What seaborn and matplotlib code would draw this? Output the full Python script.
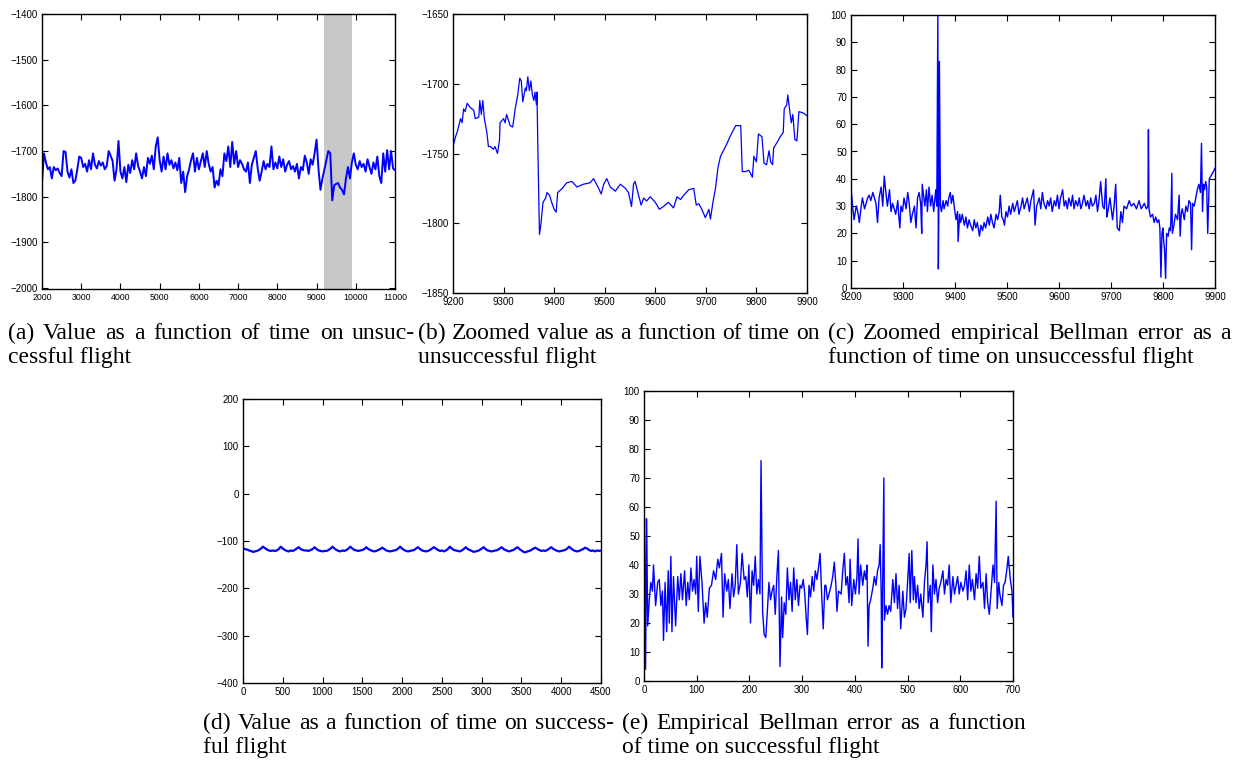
import numpy as np
import matplotlib
matplotlib.use('Agg')
import matplotlib.pyplot as plt
import seaborn as sns

# (a) value on unsuccessful flight, sampled every 50 steps from 2000 to 11000
a_values = [
    -1770, -1705, -1725, -1740, -1735, -1760, -1735, -1742, -1738, -1748,
    -1755, -1700, -1702, -1745, -1758, -1740, -1770, -1765, -1740, -1712,
    -1715, -1735, -1728, -1745, -1720, -1740, -1705, -1730, -1738, -1722,
    -1732, -1725, -1740, -1733, -1700, -1710, -1722, -1765, -1740, -1678,
    -1745, -1760, -1735, -1768, -1730, -1748, -1720, -1740, -1705, -1732,
    -1745, -1760, -1735, -1755, -1715, -1728, -1710, -1740, -1690, -1670,
    -1720, -1745, -1712, -1740, -1705, -1730, -1720, -1738, -1725, -1742,
    -1715, -1770, -1745, -1790, -1755, -1740, -1720, -1705, -1745, -1715,
    -1740, -1722, -1705, -1735, -1700, -1728, -1745, -1735, -1780, -1765,
    -1775, -1740, -1755, -1705, -1722, -1690, -1735, -1680, -1728, -1700,
    -1735, -1720, -1728, -1740, -1745, -1725, -1770, -1730, -1715, -1700,
    -1738, -1765, -1745, -1722, -1740, -1728, -1735, -1690, -1740, -1725,
    -1738, -1712, -1735, -1718, -1745, -1730, -1722, -1740, -1733, -1745,
    -1728, -1760, -1735, -1742, -1710, -1725, -1750, -1718, -1730, -1705,
    -1675, -1740, -1785, -1760, -1740, -1720, -1700, -1705, -1808, -1775,
    -1772, -1770, -1780, -1785, -1795, -1760, -1735, -1760, -1725, -1705,
    -1730, -1740, -1722, -1735, -1728, -1745, -1718, -1735, -1750, -1725,
    -1740, -1712, -1755, -1770, -1705, -1745, -1698, -1740, -1700, -1738,
    -1742,
]

# (b) zoomed value, 9200 to 9900
b_times = [
    9200, 9205, 9208, 9215, 9218, 9221, 9224, 9228, 9234, 9241,
    9244, 9251, 9253, 9256, 9259, 9262, 9267, 9270, 9274, 9280,
    9283, 9288, 9292, 9293, 9300, 9303, 9306, 9313, 9318, 9323,
    9328, 9332, 9335, 9338, 9343, 9345, 9348, 9351, 9354, 9357,
    9360, 9362, 9365, 9366, 9368, 9371, 9374, 9378, 9383, 9386,
    9391, 9396, 9400, 9404, 9407, 9416, 9425, 9435, 9445, 9458,
    9471, 9478, 9488, 9493, 9498, 9504, 9511, 9521, 9531, 9541,
    9547, 9553, 9557, 9560, 9567, 9572, 9577, 9583, 9590, 9600,
    9608, 9616, 9626, 9636, 9643, 9650, 9656, 9666, 9676, 9681,
    9686, 9692, 9699, 9706, 9709, 9714, 9719, 9724, 9729, 9739,
    9749, 9759, 9769, 9772, 9778, 9785, 9792, 9795, 9800, 9804,
    9811, 9815, 9820, 9825, 9828, 9832, 9834, 9841, 9847, 9853,
    9855, 9860, 9862, 9866, 9869, 9872, 9876, 9880, 9884, 9893,
    9900,
]
b_values = [
    -1745, -1738, -1735, -1725, -1728, -1718, -1720, -1714, -1717, -1719,
    -1725, -1724, -1712, -1722, -1712, -1725, -1735, -1745, -1745, -1747,
    -1745, -1750, -1740, -1728, -1725, -1728, -1722, -1730, -1731, -1718,
    -1708, -1696, -1698, -1713, -1703, -1705, -1695, -1705, -1698, -1708,
    -1712, -1706, -1715, -1706, -1750, -1808, -1800, -1785, -1782, -1778,
    -1780, -1786, -1790, -1792, -1778, -1775, -1771, -1770, -1774, -1772,
    -1771, -1768, -1775, -1779, -1772, -1768, -1774, -1777, -1772, -1775,
    -1778, -1788, -1772, -1770, -1780, -1787, -1782, -1784, -1781, -1785,
    -1790, -1788, -1785, -1789, -1781, -1783, -1780, -1776, -1775, -1787,
    -1786, -1790, -1796, -1790, -1797, -1785, -1775, -1760, -1752, -1745,
    -1737, -1730, -1730, -1763, -1763, -1762, -1767, -1752, -1756, -1736,
    -1738, -1757, -1758, -1748, -1756, -1758, -1746, -1742, -1738, -1735,
    -1718, -1715, -1708, -1720, -1728, -1722, -1740, -1741, -1720, -1721,
    -1723,
]

# (c) zoomed empirical Bellman error, 9200 to 9900
c_times = [
    9200, 9203, 9206, 9210, 9213, 9216, 9219, 9222, 9226, 9229,
    9232, 9235, 9238, 9242, 9245, 9248, 9251, 9254, 9258, 9261,
    9264, 9267, 9270, 9274, 9277, 9280, 9283, 9286, 9290, 9292,
    9294, 9296, 9299, 9302, 9306, 9309, 9312, 9315, 9318, 9322,
    9325, 9328, 9331, 9334, 9336, 9337, 9340, 9342, 9345, 9347,
    9350, 9353, 9356, 9359, 9363, 9365, 9367, 9368, 9369, 9370,
    9372, 9374, 9377, 9379, 9383, 9386, 9388, 9391, 9393, 9396,
    9399, 9402, 9405, 9406, 9409, 9411, 9414, 9418, 9421, 9424,
    9427, 9430, 9434, 9437, 9440, 9443, 9447, 9450, 9453, 9456,
    9459, 9463, 9466, 9469, 9472, 9475, 9479, 9482, 9485, 9487,
    9490, 9493, 9495, 9498, 9501, 9504, 9507, 9511, 9514, 9517,
    9520, 9523, 9527, 9530, 9533, 9536, 9539, 9543, 9546, 9551,
    9554, 9557, 9562, 9565, 9568, 9571, 9575, 9578, 9581, 9584,
    9587, 9591, 9594, 9597, 9600, 9603, 9607, 9610, 9613, 9616,
    9619, 9623, 9626, 9629, 9632, 9636, 9639, 9642, 9645, 9648,
    9652, 9655, 9658, 9661, 9664, 9668, 9671, 9674, 9677, 9680,
    9684, 9687, 9690, 9692, 9694, 9698, 9703, 9706, 9709, 9712,
    9716, 9719, 9722, 9725, 9730, 9735, 9739, 9744, 9749, 9754,
    9758, 9764, 9768, 9771, 9772, 9773, 9776, 9780, 9783, 9786,
    9789, 9792, 9794, 9796, 9798, 9800, 9801, 9803, 9805, 9807,
    9810, 9812, 9814, 9815, 9817, 9818, 9821, 9824, 9828, 9831,
    9833, 9835, 9837, 9841, 9844, 9847, 9850, 9853, 9855, 9857,
    9860, 9863, 9866, 9869, 9872, 9874, 9876, 9878, 9880, 9882,
    9884, 9886, 9889, 9892, 9895, 9898, 9900,
]
c_values = [
    37, 30, 25, 30, 28, 24, 29, 33, 29, 31,
    33, 34, 32, 35, 33, 31, 24, 33, 37, 30,
    41, 35, 30, 36, 28, 31, 29, 27, 32, 26,
    22, 30, 28, 33, 29, 35, 31, 24, 27, 30,
    22, 33, 35, 31, 20, 38, 33, 30, 36, 28,
    37, 30, 34, 28, 36, 30, 100, 7, 30, 83,
    30, 28, 32, 29, 32, 30, 33, 35, 31, 34,
    29, 25, 28, 17, 27, 24, 27, 23, 26, 22,
    25, 23, 21, 25, 22, 24, 19, 23, 21, 24,
    22, 26, 23, 27, 24, 22, 27, 25, 28, 34,
    26, 25, 23, 28, 26, 30, 27, 31, 28, 30,
    32, 27, 30, 33, 29, 31, 33, 28, 32, 36,
    23, 30, 33, 29, 35, 31, 29, 32, 30, 33,
    28, 32, 30, 34, 29, 33, 36, 30, 32, 29,
    33, 30, 34, 29, 32, 30, 33, 29, 31, 34,
    30, 32, 29, 33, 30, 31, 34, 28, 32, 39,
    30, 29, 40, 26, 28, 33, 25, 30, 38, 22,
    21, 28, 24, 30, 29, 32, 30, 31, 29, 32,
    29, 31, 29, 30, 58, 29, 26, 27, 24, 26,
    24, 25, 22, 4, 20, 22, 18, 14, 3.5, 20,
    19, 22, 21, 24, 42, 20, 23, 27, 25, 34,
    19, 27, 29, 25, 30, 28, 32, 31, 14, 31,
    30, 33, 36, 38, 35, 53, 28, 38, 36, 39,
    37, 20, 40, 41, 42, 43, 44,
]

# (d) value on successful flight, sampled every 25 steps from 0 to 4500
d_values = [
    -116, -117, -118, -120, -121, -123, -122, -121, -119, -116,
    -112, -115, -118, -120, -121, -120, -121, -120, -117, -112,
    -116, -119, -121, -122, -120, -121, -119, -116, -113, -117,
    -119, -120, -120, -121, -119, -117, -113, -117, -120, -121,
    -122, -121, -121, -119, -116, -112, -116, -119, -121, -122,
    -120, -121, -119, -116, -112, -116, -119, -120, -121, -120,
    -119, -117, -113, -117, -119, -121, -122, -121, -119, -117,
    -114, -117, -120, -121, -122, -121, -120, -119, -116, -112,
    -116, -119, -121, -122, -121, -120, -119, -116, -113, -117,
    -120, -121, -122, -121, -119, -116, -113, -116, -119, -121,
    -120, -122, -120, -117, -112, -116, -119, -120, -121, -122,
    -120, -117, -113, -117, -119, -121, -123, -122, -121, -119,
    -116, -113, -117, -120, -121, -122, -121, -120, -119, -116,
    -113, -117, -119, -121, -122, -120, -119, -116, -113, -117,
    -120, -123, -124, -122, -121, -119, -116, -114, -117, -119,
    -121, -120, -121, -119, -116, -113, -117, -119, -121, -122,
    -121, -120, -119, -116, -112, -116, -119, -121, -122, -121,
    -119, -117, -114, -116, -119, -121, -120, -122, -120, -121,
    -120,
]

# (e) empirical Bellman error on successful flight, 0 to 700
e_times = [
    0, 1, 3, 5, 7, 10, 13, 16, 18, 22, 26, 29, 32, 35, 37, 40, 43, 46, 48, 51,
    53, 56, 60, 64, 67, 70, 73, 77, 80, 83, 86, 89, 92, 95, 98, 100, 103, 106, 110, 114,
    117, 120, 124, 128, 132, 136, 140, 143, 147, 150, 153, 157, 160, 163, 167, 170, 173, 176, 179, 183,
    186, 190, 193, 196, 199, 202, 205, 208, 211, 214, 217, 220, 222, 225, 228, 231, 234, 237, 240, 243,
    246, 249, 252, 255, 257, 258, 261, 263, 266, 269, 272, 275, 278, 281, 284, 287, 290, 293, 296, 299,
    302, 305, 308, 310, 313, 316, 319, 322, 325, 328, 331, 334, 337, 340, 343,
    345, 348, 351, 355, 358, 361, 364, 366, 369, 374, 377, 380, 383, 386, 389, 391, 394, 398, 401, 404,
    406, 408, 411, 415, 418, 421, 423, 425, 427, 430, 434, 437, 440, 443, 446, 448, 450, 451, 455, 456,
    459, 462, 465, 468, 472, 475, 478, 481, 484, 487, 491, 494, 497, 500, 503, 505, 508, 511, 513, 516,
    519, 522, 525, 529, 532, 535, 537, 539, 543, 545, 548, 551, 554, 557, 560, 563, 567, 570, 573, 576,
    579, 582, 586, 589, 592, 595, 598, 601, 605, 608, 611, 614, 617, 620, 623, 627, 630, 633, 636, 639,
    643, 646, 649, 652, 655, 658, 662, 665, 668, 670, 673, 675, 679, 682, 685, 688, 691, 695, 698, 700,
]
e_values = [
    45, 56, 4, 56, 19, 28, 34, 31, 40, 26, 34, 35, 26, 31, 14, 34, 17, 38, 20, 43,
    17, 36, 19, 36, 28, 37, 28, 38, 26, 34, 28, 39, 31, 35, 30, 43, 24, 43, 34, 20,
    27, 22, 32, 33, 38, 35, 42, 39, 44, 22, 37, 31, 35, 25, 37, 29, 33, 47, 30, 34,
    44, 35, 36, 29, 40, 20, 38, 33, 43, 30, 35, 30, 76, 24, 16, 15, 24, 34, 28, 31,
    33, 23, 36, 45, 17, 5, 29, 15, 27, 23, 39, 28, 34, 24, 39, 28, 35, 26, 33, 32,
    35, 30, 21, 16, 33, 29, 36, 31, 38, 35, 39, 44, 30, 18, 33,
    33, 28, 30, 33, 36, 41, 33, 24, 31, 30, 38, 44, 33, 36, 27, 42, 26, 35, 30, 36,
    49, 30, 40, 33, 38, 35, 40, 12, 26, 28, 32, 36, 33, 38, 40, 47, 30, 4.5, 70, 21,
    26, 23, 26, 24, 35, 27, 37, 25, 33, 18, 31, 22, 25, 34, 44, 27, 45, 28, 36, 27,
    33, 25, 30, 22, 34, 40, 48, 27, 33, 17, 40, 30, 35, 27, 32, 34, 38, 30, 35, 33,
    40, 27, 36, 30, 33, 36, 30, 34, 31, 33, 38, 28, 40, 31, 35, 28, 37, 32, 43, 32,
    34, 25, 37, 27, 23, 30, 40, 34, 62, 25, 34, 30, 26, 33, 34, 38, 43, 35, 31, 22,
]

captions = {
    'a': ('(a) Value as a function of time on unsuc-', 'cessful flight'),
    'b': ('(b) Zoomed value as a function of time on', 'unsuccessful flight'),
    'c': ('(c) Zoomed empirical Bellman error as a', 'function of time on unsuccessful flight'),
    'd': ('(d) Value as a function of time on success-', 'ful flight'),
    'e': ('(e) Empirical Bellman error as a function', 'of time on successful flight'),
}

sns.set_style('ticks')
plt.rcParams['font.family'] = ['Liberation Sans', 'DejaVu Sans']
plt.rcParams['xtick.direction'] = 'in'
plt.rcParams['ytick.direction'] = 'in'
plt.rcParams['xtick.top'] = True
plt.rcParams['ytick.right'] = True
plt.rcParams['xtick.major.size'] = 4
plt.rcParams['ytick.major.size'] = 4
plt.rcParams['xtick.major.width'] = 0.8
plt.rcParams['ytick.major.width'] = 0.8
plt.rcParams['axes.linewidth'] = 1.0
plt.rcParams['axes.edgecolor'] = 'black'

W, H = 1239, 764
fig = plt.figure(figsize=(W / 100, H / 100), dpi=100)


def add_axes(left, top, right, bottom):
    return fig.add_axes([left / W, 1 - bottom / H, (right - left) / W, (bottom - top) / H])


ax_a = add_axes(42, 14, 395, 289)
ax_b = add_axes(453, 14, 807, 293)
ax_c = add_axes(851, 15, 1215, 288)
ax_d = add_axes(243, 399, 601, 683)
ax_e = add_axes(644, 391, 1013, 681)

blue = (0, 0, 1)

ax_a.axvspan(9200, 9900, color='#c8c8c8', lw=0)
sns.lineplot(x=np.linspace(2000, 11000, len(a_values)), y=a_values, ax=ax_a,
             color=blue, lw=1.4, estimator=None, sort=False)
ax_a.set_xlim(2000, 11000)
ax_a.set_ylim(-2002, -1400)
ax_a.set_xticks(range(2000, 11001, 1000))
ax_a.set_yticks(range(-2000, -1399, 100))

sns.lineplot(x=b_times, y=b_values, ax=ax_b, color=blue, lw=0.9, estimator=None, sort=False)
ax_b.set_xlim(9200, 9900)
ax_b.set_ylim(-1850, -1650)
ax_b.set_xticks(range(9200, 9901, 100))
ax_b.set_yticks(range(-1850, -1649, 50))

sns.lineplot(x=c_times, y=c_values, ax=ax_c, color=blue, lw=1.0, estimator=None, sort=False)
ax_c.set_xlim(9200, 9900)
ax_c.set_ylim(0, 100)
ax_c.set_xticks(range(9200, 9901, 100))
ax_c.set_yticks(range(0, 101, 10))

sns.lineplot(x=np.linspace(0, 4500, len(d_values)), y=d_values, ax=ax_d,
             color=blue, lw=1.6, estimator=None, sort=False)
ax_d.set_xlim(0, 4500)
ax_d.set_ylim(-400, 200)
ax_d.set_xticks(range(0, 4501, 500))
ax_d.set_yticks(range(-400, 201, 100))

sns.lineplot(x=e_times, y=e_values, ax=ax_e, color=blue, lw=1.0, estimator=None, sort=False)
ax_e.set_xlim(0, 700)
ax_e.set_ylim(0, 100)
ax_e.set_xticks(range(0, 701, 100))
ax_e.set_yticks(range(0, 101, 10))

for ax in [ax_a, ax_b, ax_c, ax_d, ax_e]:
    ax.set_xlabel('')
    ax.set_ylabel('')
    ax.tick_params(labelsize=7, pad=3, colors='black')
    for s in ax.spines.values():
        s.set_visible(True)
        s.set_color('black')
ax_a.tick_params(axis='x', labelsize=6.3)

cap_font = dict(family='Liberation Serif', fontsize=17, va='baseline', ha='left', color='black')
# left x, right x of the justified first line, baseline y of the first line
cap_pos = {
    'a': (8, 415, 339), 'b': (418, 820, 339), 'c': (828, 1231, 339),
    'd': (203, 614, 729), 'e': (622, 1026, 729),
}

renderer = fig.canvas.get_renderer()
for key, (l1, l2) in captions.items():
    x0, x1, y = cap_pos[key]
    words = l1.split(' ')
    items = [fig.text(0, 1 - y / H, w, **cap_font) for w in words]
    widths = [t.get_window_extent(renderer).width for t in items]
    gap = (x1 - x0 - sum(widths)) / (len(words) - 1)
    pos = x0
    for t, w in zip(items, widths):
        t.set_x(pos / W)
        pos += w + gap
    fig.text(x0 / W, 1 - (y + 24) / H, l2, **cap_font)

fig.savefig('out.png', dpi=100)
